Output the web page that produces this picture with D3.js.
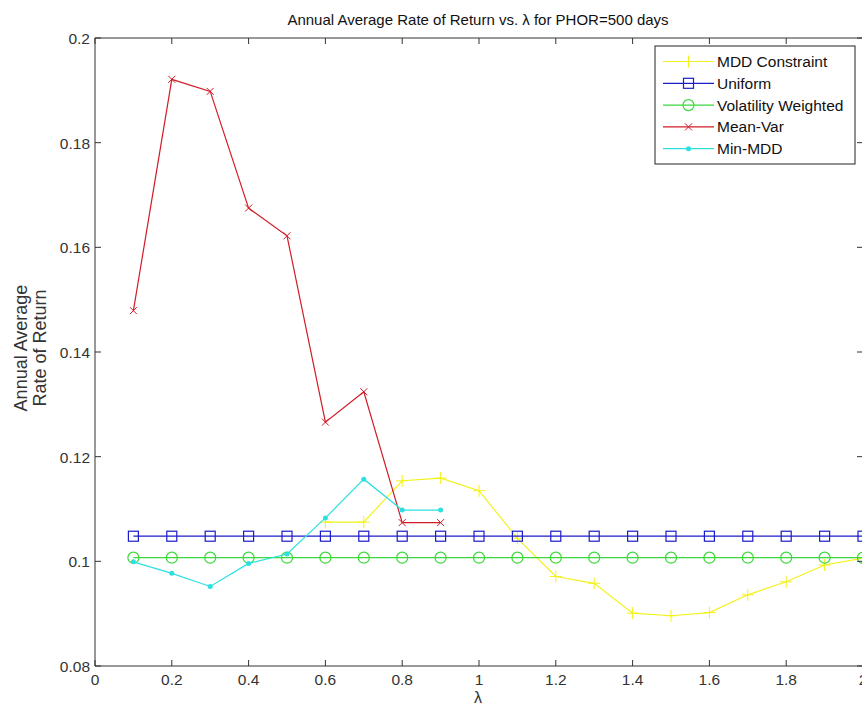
<!DOCTYPE html>
<html><head><meta charset="utf-8">
<script src="https://cdn.jsdelivr.net/npm/d3@7"></script>
<style>body{margin:0;background:#fff}svg{display:block;font-family:"Liberation Sans",Arial,sans-serif}</style>
</head><body>
<script>
const lambdaAll = [0.1,0.2,0.3,0.4,0.5,0.6,0.7,0.8,0.9,1.0,1.1,1.2,1.3,1.4,1.5,1.6,1.7,1.8,1.9,2.0];
const lambdaShort = [0.1,0.2,0.3,0.4,0.5,0.6,0.7,0.8,0.9];
const lambdaMDD = [0.6,0.7,0.8,0.9,1.0,1.1,1.2,1.3,1.4,1.5,1.6,1.7,1.8,1.9,2.0];
const mddConstraint = [0.1075,0.1075,0.1154,0.1159,0.1135,0.1044,0.0971,0.0958,0.0901,0.0896,0.0902,0.0936,0.0961,0.0993,0.1006];
const uniform = lambdaAll.map(() => 0.1048);
const volWeighted = lambdaAll.map(() => 0.1007);
const meanVar = [0.1479,0.1921,0.1898,0.1675,0.1622,0.1266,0.1324,0.1074,0.1074];
const minMDD = [0.0999,0.0977,0.0952,0.0996,0.1014,0.1083,0.1157,0.1098,0.1098];
const xTicks = [0,0.2,0.4,0.6,0.8,1,1.2,1.4,1.6,1.8,2];
const yTicks = [0.08,0.1,0.12,0.14,0.16,0.18,0.2];

const W = 862, H = 709;
const m = {l:95, t:38, r:863, b:666};
const svg = d3.select("body").append("svg").attr("width",W).attr("height",H);
const x = d3.scaleLinear().domain([0,2]).range([m.l,m.r]);
const y = d3.scaleLinear().domain([0.08,0.2]).range([m.b,m.t]);

const series = [
  {name:"MDD Constraint", xs:lambdaMDD, ys:mddConstraint, color:"#f2f21a", marker:"plus"},
  {name:"Uniform", xs:lambdaAll, ys:uniform, color:"#1c1cc8", marker:"square"},
  {name:"Volatility Weighted", xs:lambdaAll, ys:volWeighted, color:"#3ad83a", marker:"circle"},
  {name:"Mean-Var", xs:lambdaShort, ys:meanVar, color:"#d01c28", marker:"x"},
  {name:"Min-MDD", xs:lambdaShort, ys:minMDD, color:"#2ce0e0", marker:"dot"}
];

function drawMarker(g, type, cx, cy, color){
  if(type==="plus"){
    g.append("path").attr("d",`M${cx-6},${cy}H${cx+6}M${cx},${cy-6}V${cy+6}`).attr("stroke",color).attr("stroke-width",1).attr("fill","none");
  } else if(type==="square"){
    g.append("rect").attr("x",cx-5).attr("y",cy-5).attr("width",10).attr("height",10).attr("stroke",color).attr("fill","none").attr("stroke-width",1.2);
  } else if(type==="circle"){
    g.append("circle").attr("cx",cx).attr("cy",cy).attr("r",5.5).attr("stroke",color).attr("fill","none").attr("stroke-width",1.2);
  } else if(type==="x"){
    g.append("path").attr("d",`M${cx-3.5},${cy-3.5}L${cx+3.5},${cy+3.5}M${cx-3.5},${cy+3.5}L${cx+3.5},${cy-3.5}`).attr("stroke",color).attr("stroke-width",1).attr("fill","none");
  } else if(type==="dot"){
    g.append("circle").attr("cx",cx).attr("cy",cy).attr("r",2.5).attr("fill",color);
  }
}

const plot = svg.append("g");
series.forEach(s=>{
  const pts = s.xs.map((v,i)=>[v,s.ys[i]]);
  plot.append("path").datum(pts)
    .attr("d", d3.line().x(d=>x(d[0])).y(d=>y(d[1])))
    .attr("fill","none").attr("stroke",s.color).attr("stroke-width",1.2);
  pts.forEach(p=>drawMarker(plot, s.marker, x(p[0]), y(p[1]), s.color));
});

// axes box
const ax = "#333";
svg.append("path").attr("d",`M${m.l},${m.t}V${m.b}H${m.r}V${m.t}Z`).attr("fill","none").attr("stroke",ax).attr("stroke-width",1);
const tl = 6;
const ticks = svg.append("g").attr("stroke",ax).attr("stroke-width",1);
xTicks.forEach(t=>{
  ticks.append("line").attr("x1",x(t)).attr("x2",x(t)).attr("y1",m.b).attr("y2",m.b-tl);
  ticks.append("line").attr("x1",x(t)).attr("x2",x(t)).attr("y1",m.t).attr("y2",m.t+tl);
});
yTicks.forEach(t=>{
  ticks.append("line").attr("x1",m.l).attr("x2",m.l+tl).attr("y1",y(t)).attr("y2",y(t));
  ticks.append("line").attr("x1",m.r).attr("x2",m.r-tl).attr("y1",y(t)).attr("y2",y(t));
});
const fmt = d => String(+d.toFixed(2));
svg.append("g").selectAll("text").data(xTicks).join("text")
  .attr("x",d=>x(d)).attr("y",m.b+19).attr("text-anchor","middle")
  .attr("font-size",15.5).attr("fill","#333").text(fmt);
svg.append("g").selectAll("text").data(yTicks).join("text")
  .attr("x",m.l-5).attr("y",d=>y(d)+6).attr("text-anchor","end")
  .attr("font-size",15.5).attr("fill","#333").text(fmt);

// title and labels
svg.append("text").attr("x",478).attr("y",25).attr("text-anchor","middle").attr("font-size",15).attr("fill","#111")
  .text("Annual Average Rate of Return vs. \u03bb for PHOR=500 days");
svg.append("text").attr("x",478).attr("y",703).attr("text-anchor","middle").attr("font-size",16).attr("fill","#333").text("\u03bb");
const yl = svg.append("text").attr("transform","translate(27,348) rotate(-90)").attr("text-anchor","middle").attr("font-size",18).attr("fill","#333");
yl.append("tspan").attr("x",0).attr("dy",0).text("Annual Average");
yl.append("tspan").attr("x",0).attr("dy",19).text("Rate of Return");

// legend
const lg = svg.append("g");
lg.append("rect").attr("x",655).attr("y",46).attr("width",200).attr("height",118).attr("fill","#fff").attr("stroke","#222").attr("stroke-width",1);
series.forEach((s,i)=>{
  const yy = 61.5 + i*21.8;
  lg.append("line").attr("x1",663).attr("x2",714).attr("y1",yy).attr("y2",yy).attr("stroke",s.color).attr("stroke-width",1.2);
  drawMarker(lg, s.marker, 688.5, yy, s.color);
  lg.append("text").attr("x",717).attr("y",yy+5.5).attr("font-size",15.5).attr("fill","#111").text(s.name);
});
</script>
</body></html>
